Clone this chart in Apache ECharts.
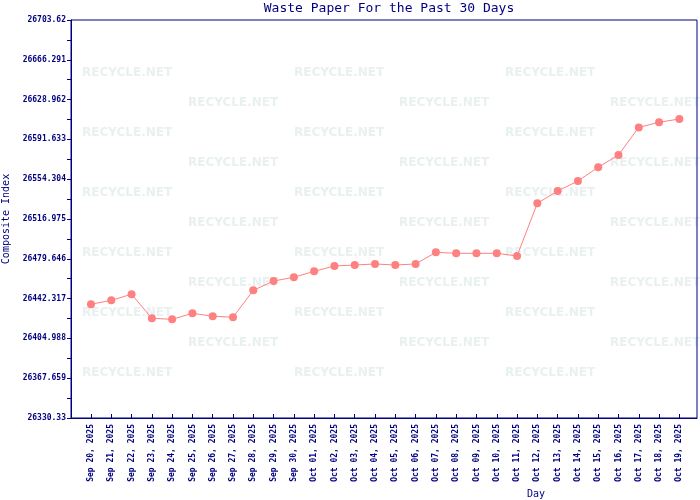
<!DOCTYPE html>
<html>
<head>
<meta charset="utf-8">
<script src="https://cdn.jsdelivr.net/npm/echarts@6/dist/echarts.min.js"></script>
<style>
  html, body { margin: 0; padding: 0; background: #fff; }
  #chart { width: 700px; height: 500px; }
</style>
</head>
<body>
<div id="chart"></div>
<script>
const days = [
  'Sep 20, 2025', 'Sep 21, 2025', 'Sep 22, 2025', 'Sep 23, 2025', 'Sep 24, 2025',
  'Sep 25, 2025', 'Sep 26, 2025', 'Sep 27, 2025', 'Sep 28, 2025', 'Sep 29, 2025',
  'Sep 30, 2025', 'Oct 01, 2025', 'Oct 02, 2025', 'Oct 03, 2025', 'Oct 04, 2025',
  'Oct 05, 2025', 'Oct 06, 2025', 'Oct 07, 2025', 'Oct 08, 2025', 'Oct 09, 2025',
  'Oct 10, 2025', 'Oct 11, 2025', 'Oct 12, 2025', 'Oct 13, 2025', 'Oct 14, 2025',
  'Oct 15, 2025', 'Oct 16, 2025', 'Oct 17, 2025', 'Oct 18, 2025', 'Oct 19, 2025'
]
const indexValues = [
  26437.0, 26440.7, 26446.4, 26423.8, 26422.9,
  26428.5, 26425.8, 26424.8, 26450.1, 26458.8,
  26462.3, 26467.9, 26472.9, 26473.8, 26474.8,
  26473.8, 26474.8, 26485.7, 26484.8, 26484.8,
  26484.8, 26482.3, 26531.7, 26543.2, 26552.6,
  26565.5, 26577.0, 26602.9, 26607.7, 26610.8
]
const yLabels = [
  '26330.33', '26367.659', '26404.988', '26442.317', '26479.646', '26516.975',
  '26554.304', '26591.633', '26628.962', '26666.291', '26703.62'
]

const NAVY = '#000080'
const LINE = '#ff8080'
const MONO = 'DejaVu Sans Mono'

const yLabelVals = yLabels.map(Number)
const yTickVals = []
yLabelVals.forEach((v, i) => {
  yTickVals.push(v)
  if (i < yLabelVals.length - 1) yTickVals.push((v + yLabelVals[i + 1]) / 2)
})

// faint watermark behind the plot
const marks = []
for (let r = 0; r < 11; r++) {
  const y = 73 + r * 30
  const xs = r % 2 === 0 ? [82, 294, 505] : [188, 399, 610]
  xs.forEach(x => {
    marks.push({
      type: 'text', left: x, top: y - 6, z: -1, silent: true,
      style: { text: 'RECYCLE.NET', fill: '#e8f0f0', font: 'bold 12px "DejaVu Sans"' }
    })
  })
}
marks.push({
  type: 'text', left: 527, top: 489,
  style: { text: 'Day', fill: NAVY, font: '10px "' + MONO + '"' }
})

const chart = echarts.init(document.getElementById('chart'))
chart.setOption({
  animation: false,
  backgroundColor: '#fff',
  title: {
    text: 'Waste Paper For the Past 30 Days',
    left: 384, top: -3, textAlign: 'center',
    textStyle: { color: NAVY, fontFamily: MONO, fontSize: 13, fontWeight: 'normal' }
  },
  grid: {
    left: 71, right: 3, top: 20, bottom: 82,
    outerBoundsMode: 'none',
    show: true, borderColor: NAVY, borderWidth: 1, backgroundColor: 'transparent'
  },
  graphic: marks,
  xAxis: {
    type: 'value', min: -0.985, max: 29.87,
    axisLine: { onZero: false, lineStyle: { color: NAVY } },
    axisTick: { inside: true, length: 4, lineStyle: { color: NAVY }, customValues: days.map((d, i) => i) },
    axisLabel: {
      customValues: days.map((d, i) => i),
      rotate: 90, margin: 6,
      color: NAVY, fontFamily: MONO, fontSize: 8, fontWeight: 'bold',
      formatter: v => days[Math.round(v)] || ''
    },
    splitLine: { show: false }
  },
  yAxis: {
    type: 'value', min: 26330.33, max: 26703.62,
    name: 'Composite Index', nameLocation: 'middle', nameGap: 56,
    nameTextStyle: { color: NAVY, fontFamily: MONO, fontSize: 10 },
    axisLine: { show: true, onZero: false, lineStyle: { color: NAVY } },
    axisTick: { length: 4, lineStyle: { color: NAVY }, customValues: yTickVals },
    axisLabel: {
      customValues: yLabelVals, margin: 5,
      color: NAVY, fontFamily: MONO, fontSize: 8, fontWeight: 'bold',
      formatter: v => {
        let best = 0
        yLabelVals.forEach((t, i) => { if (Math.abs(t - v) < Math.abs(yLabelVals[best] - v)) best = i })
        return yLabels[best]
      }
    },
    splitLine: { show: false }
  },
  series: [{
    type: 'line',
    data: indexValues.map((v, i) => [i, v]),
    symbol: 'circle', symbolSize: 8,
    itemStyle: { color: LINE },
    lineStyle: { color: LINE, width: 1 }
  }]
})
</script>
</body>
</html>
